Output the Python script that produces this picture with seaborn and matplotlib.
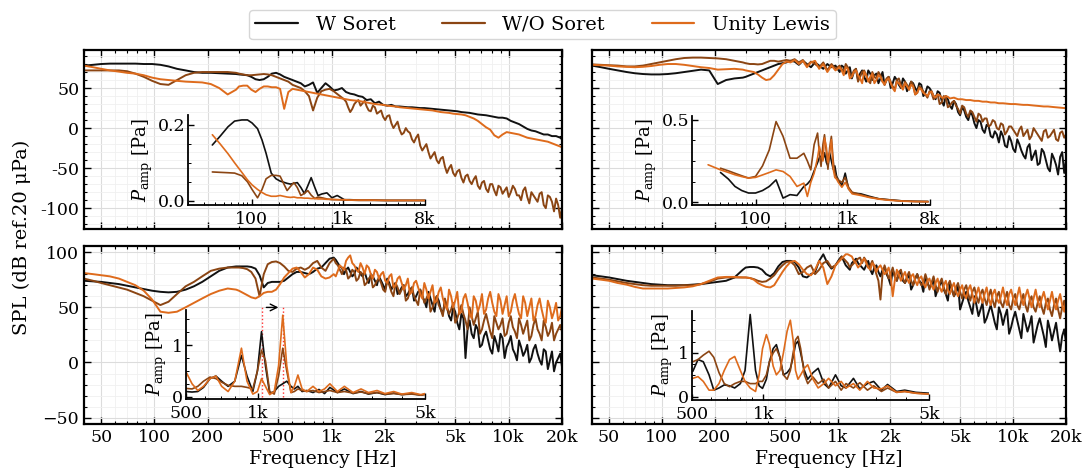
import numpy as np
import matplotlib
matplotlib.use("Agg")
import matplotlib.pyplot as plt
import seaborn as sns
from matplotlib.ticker import FixedLocator, FuncFormatter, NullFormatter, LogLocator, AutoMinorLocator
from matplotlib.lines import Line2D

# ---------------- data ----------------
LABELS = ["W Soret", "W/O Soret", "Unity Lewis"]
COLORS = ["#111111", "#8b4513", "#de6b1c"]

F_MAIN = [40, 45, 50, 56, 63, 70, 78, 87, 97, 108, 120, 134, 150, 167, 186, 208, 232, 259, 289,
          300, 317, 334, 352, 372, 392, 414, 436, 460, 486,
          512, 540, 570, 602, 635, 670, 706, 745, 786, 830,
          875, 924, 974, 1028, 1085, 1144, 1207, 1274, 1344, 1418,
          1496, 1578, 1665, 1756, 1853, 1955, 2062, 2176, 2296, 2422,
          2555, 2695, 2844, 3000, 3165, 3339, 3523, 3716, 3921, 4136,
          4364, 4604, 4857, 5124, 5406, 5703, 6017, 6348, 6697, 7065,
          7454, 7864, 8296, 8753, 9234, 9742, 10278, 10843, 11439, 12068,
          12732, 13432, 14171, 14950, 15772, 16640, 17555, 18520, 19539, 20000]
# extra in-between frequency bins for the noisy upper band
F_MID = [1056, 1114, 1175, 1240, 1309, 1381, 1457, 1537, 1621, 1710,
         1804, 1903, 2008, 2118, 2235, 2358, 2488, 2625, 2769, 2921,
         3081, 3251, 3430, 3618, 3817, 4027, 4249, 4483, 4730, 4989,
         5264, 5553, 5858, 6180, 6520, 6879, 7257, 7656, 8077, 8521,
         8990, 9485, 10006, 10557, 11137, 11749, 12396, 13077, 13797, 14555,
         15356, 16200, 17091, 18031, 19023]

# top-left panel
TL_W = [78, 79, 80, 80.5, 80.5, 80.5, 80.5, 80, 80, 79, 77, 74, 72, 70, 69, 69, 68.5, 68, 67.5,
        67, 66.5, 66, 64, 61, 60, 61, 64, 68, 69,
        67, 64, 62, 60, 58, 56, 52, 54, 57, 44,
        50, 56, 52, 47, 48, 50, 45, 43, 42, 40,
        39, 35, 36, 31, 33, 29, 28, 29, 27, 27,
        26.5, 26, 26, 25.5, 25, 25, 24.5, 24, 23.5, 23,
        22.5, 22, 21.5, 21, 20, 19.5, 19, 18, 17, 16.5,
        16, 15, 14, 13, 13, 12, 9, 7, 5, 2,
        -1, -3, -4, -6, -8, -8, -10, -10, -12, -14]
TL_WO = [72, 72, 72, 72, 72, 71, 68, 64, 59, 55, 54, 60, 66, 69, 70, 70, 70, 70, 69,
         68, 67, 66, 66, 66.5, 67, 67.5, 67, 66, 64,
         62, 60, 58, 54, 52, 50, 46, 40, 22, 38,
         46, 48, 49, 46, 42, 38, 33, 20, 30, 35,
         31, 27, 21, 26, 20, 14, 15, 6, 4, -2,
         -6, -4, -14, -12, -22, -24, -30, -34, -40, -38,
         -48, -50, -56, -54, -62, -60, -66, -64, -72, -68,
         -76, -70, -78, -72, -82, -74, -80, -76, -84, -78,
         -86, -80, -88, -82, -96, -84, -92, -88, -112, -100]
TL_WO_MID = [44, 40, 36, 26, 24, 33, 28, 34, 22, 28,
             18, 22, 10, 16, 0, 8, -8, 0, -6, -18,
             -8, -28, -20, -38, -30, -44, -36, -56, -46, -60,
             -52, -68, -58, -70, -60, -76, -66, -80, -70, -84,
             -74, -78, -86, -72, -84, -90, -74, -94, -84, -92,
             -80, -100, -86, -104, -96]
TL_UL = [78, 76, 74, 72, 70.5, 69, 68, 66, 63, 61, 60, 59, 58, 57.5, 57, 55, 50, 42, 48,
         52, 53, 53, 48, 45, 49, 52, 52, 51, 51,
         49, 24, 45, 49, 48, 47, 46, 45, 44, 43,
         42, 41, 40, 39, 38, 37, 36, 35, 34.5, 34,
         33, 32, 31, 30, 29.5, 29, 28, 27.5, 27, 26,
         25.5, 25, 24.5, 24, 23.5, 23, 22.5, 22, 21, 20,
         19.5, 19, 18, 17.5, 17, 16, 14, 12, 9, 5,
         1, -2, -9, -12, -8, -5, -6, -7, -8, -10,
         -12, -13, -14, -15, -16, -17, -19, -21, -23, -24]

# top-right panel
TR_W = [78, 76, 74, 72, 70, 68.5, 67.5, 67, 67, 67.5, 68.5, 70, 71.5, 73, 72, 55, 60, 62, 63,
        64, 66, 68, 70, 72, 74, 76, 78, 80, 81,
        82, 84, 83, 79, 84, 80, 76, 82, 78, 74,
        80, 76, 78, 70, 76, 72, 62, 74, 68, 64,
        72, 60, 68, 62, 54, 64, 56, 60, 50, 58,
        52, 56, 46, 54, 44, 50, 40, 46, 34, 40,
        28, 34, 20, 26, 14, 20, 6, 10, -2, 4,
        -10, -4, -18, -10, -24, -16, -30, -20, -34, -24,
        -40, -28, -44, -30, -50, -32, -46, -36, -56, -40]
TR_W_MID = [78, 68, 76, 70, 60, 72, 58, 68, 66, 56,
            70, 60, 50, 64, 54, 62, 46, 58, 50, 56,
            40, 52, 46, 36, 44, 28, 36, 24, 30, 16,
            22, 10, 16, 0, 8, -6, 2, -12, -8, -4,
            -22, -10, -26, -14, -28, -38, -20, -34, -46, -26,
            -40, -54, -38, -58, -30]
TR_WO = [79.5, 79, 78.5, 78, 77, 77, 78, 80, 82, 84, 86, 87.5, 88, 88, 87.5, 87, 86, 84, 82,
         81, 80, 80, 79.5, 80, 82, 84, 84, 83, 84,
         85, 84, 86, 82, 85, 78, 83, 80, 76, 82,
         72, 80, 74, 78, 70, 76, 66, 74, 64, 72,
         60, 70, 62, 66, 56, 64, 52, 60, 54, 58,
         48, 54, 44, 50, 42, 46, 36, 42, 32, 38,
         28, 34, 24, 28, 18, 22, 14, 18, 8, 12,
         4, 8, -2, 4, -4, 2, -6, -2, -10, -2,
         -10, -4, -12, -4, -12, -6, -14, -6, -12, -8]
TR_WO_MID = [74, 80, 68, 72, 58, 70, 66, 56, 64, 70,
             58, 62, 58, 48, 62, 50, 54, 58, 42, 52,
             46, 38, 44, 40, 30, 40, 26, 32, 28, 18,
             26, 14, 20, 8, 16, 12, 2, 10, 0, 6,
             -8, 2, -2, -10, 2, -6, -14, 0, -8, -16,
             -2, -10, -2, -16, -4]
TR_UL = [79, 78.5, 78, 77, 76.5, 76, 76.5, 77.5, 79, 80, 80, 79, 77.5, 76, 75, 73, 73.5, 74, 73,
         72, 71, 70, 67, 63, 60, 61, 66, 73, 80,
         83, 82, 85, 80, 84, 76, 82, 84, 74, 80,
         70, 78, 72, 76, 66, 74, 64, 72, 62, 70,
         58, 68, 60, 64, 54, 62, 50, 58, 52, 56,
         48, 52, 44, 48, 42, 44, 40, 42, 38, 40,
         37, 38, 36, 36, 35, 35, 34, 34, 33, 33,
         32, 32, 31, 31, 30.5, 30, 30, 29.5, 29, 29,
         28.5, 28, 27.5, 27, 27, 26.5, 26, 25.5, 25, 25]
TR_UL_MID = [72, 76, 62, 70, 66, 56, 66, 64, 56, 66,
             58, 60, 56, 46, 56, 48, 52, 54, 42, 50,
             44, 40, 46, 38, 41, 38, 39, 37.5, 37, 36,
             35.5, 35, 34.5, 34, 33.5, 33, 32.5, 32, 31.5, 31,
             30.7, 30.2, 30, 29.7, 29.2, 29, 28.7, 28.2, 27.7, 27.2,
             27, 26.7, 26.2, 25.7, 25.2]

# bottom-left panel
BL_W = [74, 73.5, 73, 72, 71, 69.5, 68, 66.5, 65, 64, 63.5, 64, 66, 69, 73, 78, 83, 86, 87,
        87, 87, 87, 86.5, 85, 79, 68, 72, 73, 73,
        73, 74, 77, 80, 82, 82, 81, 80, 82, 85,
        86, 90, 94, 95, 90, 86, 84, 82, 80, 84,
        78, 76, 80, 74, 78, 70, 76, 66, 72, 64,
        70, 62, 68, 60, 66, 56, 64, 52, 60, 48,
        56, 42, 50, 36, 44, 4, 38, 22, 30, 16,
        28, 12, 24, 10, 22, 14, 24, 8, 20, 6,
        16, 4, 16, 2, 12, -6, 10, 0, 8, -4]
BL_W_MID = [93, 87, 80, 86, 78, 86, 80, 82, 72, 78,
            70, 74, 66, 72, 70, 62, 68, 60, 66, 56,
            64, 60, 50, 58, 46, 56, 44, 50, 38, 46,
            30, 40, 30, 26, 34, 14, 24, 20, 8, 18,
            26, 4, 18, 12, 2, 14, 10, 0, 12, 8,
            -2, 10, 2, -8, 4]
BL_WO = [76, 74, 72, 70, 68, 66, 63, 60, 56, 52, 55, 62, 69, 73, 78, 83, 85, 86, 86,
         86, 85.5, 84.5, 82, 76, 60, 80, 89, 91, 91.5,
         90, 87, 83, 82, 85, 86, 84, 86, 90, 92,
         86, 83, 90, 94, 88, 80, 84, 78, 82, 76,
         80, 72, 78, 70, 76, 66, 74, 64, 72, 62,
         70, 58, 68, 56, 66, 54, 62, 50, 60, 48,
         58, 44, 54, 40, 52, 38, 50, 34, 46, 30,
         44, 28, 42, 30, 40, 26, 42, 28, 40, 26,
         38, 24, 40, 26, 38, 24, 36, 26, 34, 28]
BL_WO_MID = [90, 84, 86, 76, 84, 74, 82, 70, 76, 68,
             74, 72, 64, 70, 60, 68, 66, 56, 64, 60,
             52, 62, 58, 46, 56, 52, 42, 50, 48, 36,
             46, 44, 30, 42, 40, 26, 38, 36, 22, 36,
             34, 24, 36, 32, 22, 34, 32, 20, 34, 30,
             20, 32, 28, 20, 30]
BL_UL = [81, 80, 79, 78, 76, 73, 70, 65, 57, 46, 45, 46, 50, 54, 58, 62, 65, 67, 66,
         65, 63, 61, 59, 58, 60, 63, 64, 64, 66,
         71, 77, 81, 85, 86, 82, 77, 80, 86, 84,
         78, 76, 77, 80, 83, 86, 92, 97, 88, 82,
         86, 88, 80, 84, 76, 82, 72, 80, 70, 78,
         66, 76, 64, 74, 62, 72, 58, 70, 56, 68,
         52, 66, 50, 64, 46, 62, 44, 60, 46, 62,
         48, 64, 46, 62, 44, 60, 46, 62, 44, 60,
         42, 58, 42, 58, 40, 56, 40, 54, 42, 50]
BL_UL_MID = [78, 88, 84, 95, 90, 84, 90, 80, 86, 76,
             82, 80, 74, 78, 68, 76, 72, 70, 62, 72,
             68, 58, 66, 64, 54, 64, 58, 48, 60, 56,
             44, 58, 54, 40, 56, 52, 44, 58, 54, 42,
             56, 52, 42, 56, 52, 40, 54, 50, 38, 52,
             48, 36, 50, 46, 38]

# bottom-right panel
BR_W = [79, 78, 77, 75.5, 74, 73, 72, 71, 70.5, 70, 70, 70, 70.5, 71, 72, 73, 74, 77, 84,
        86, 86.5, 86.5, 86, 84, 80, 78, 81, 87, 91,
        92, 92, 91, 86, 78, 77, 80, 82, 92, 98,
        90, 85, 88, 94, 92, 86, 90, 94, 88, 84,
        92, 80, 88, 78, 86, 76, 84, 74, 82, 72,
        80, 70, 80, 72, 78, 68, 76, 66, 74, 62,
        72, 60, 70, 54, 64, 50, 60, 42, 54, 40,
        52, 36, 50, 34, 48, 32, 46, 30, 44, 28,
        42, 26, 40, 24, 38, 20, 36, 10, 30, 18]
BR_W_MID = [96, 88, 84, 92, 90, 86, 88, 84, 86, 82,
            84, 80, 70, 78, 80, 74, 76, 66, 76, 74,
            64, 72, 70, 60, 70, 66, 56, 66, 64, 48,
            60, 56, 44, 52, 48, 36, 46, 44, 30, 44,
            42, 26, 40, 38, 22, 36, 34, 18, 34, 32,
            14, 30, 28, 22, 24]
BR_WO = [77, 76, 75, 73.5, 72, 71, 70, 69.5, 69.5, 69.5, 69.5, 70, 70, 71, 73, 76, 77, 77, 77,
         77, 76.5, 75.5, 74, 73, 73.5, 76, 79, 84, 88,
         91, 91.5, 88, 80, 82, 86, 88, 80, 84, 90,
         92, 86, 88, 93, 94, 90, 88, 92, 95, 95,
         86, 92, 80, 57, 88, 76, 86, 74, 84, 72,
         82, 70, 80, 70, 80, 66, 78, 64, 76, 62,
         74, 60, 72, 58, 70, 56, 68, 54, 66, 52,
         66, 50, 64, 50, 64, 48, 62, 48, 62, 46,
         60, 46, 60, 44, 58, 42, 58, 40, 56, 44]
BR_WO_MID = [96, 92, 86, 90, 94, 90, 92, 88, 86, 74,
             80, 82, 80, 78, 82, 76, 78, 74, 76, 74,
             72, 74, 72, 70, 72, 68, 70, 66, 68, 64,
             66, 62, 64, 60, 62, 58, 60, 56, 60, 54,
             58, 52, 58, 52, 56, 52, 56, 50, 54, 50,
             54, 48, 52, 48, 50]
BR_UL = [76, 75, 74, 72, 70.5, 68.5, 67, 67, 67, 67, 67.5, 68, 69, 71, 74, 77, 77.5, 77.5, 77,
         77, 76.5, 75, 72, 70, 68.5, 68, 70, 76, 82,
         87, 91, 92, 89, 84, 80, 79, 84, 92, 86,
         71, 78, 88, 92, 96, 98, 96, 90, 88, 94,
         86, 90, 82, 88, 80, 86, 60, 84, 74, 82,
         72, 80, 70, 78, 68, 76, 66, 76, 64, 74,
         62, 72, 60, 70, 58, 70, 54, 68, 54, 68,
         52, 66, 54, 68, 52, 66, 52, 68, 52, 66,
         50, 66, 50, 64, 48, 64, 48, 62, 46, 56]
BR_UL_MID = [94, 98, 97, 92, 86, 92, 90, 84, 88, 86,
             84, 82, 78, 74, 80, 78, 76, 78, 74, 76,
             72, 74, 70, 72, 68, 70, 66, 68, 64, 66,
             62, 66, 62, 62, 60, 62, 58, 62, 58, 60,
             58, 62, 58, 60, 58, 60, 58, 58, 56, 58,
             56, 56, 54, 56, 52]

# insets: pressure amplitude spectra
F_IN_TL = [37, 45, 55, 65, 78, 90, 101, 116, 130, 144,
           164, 185, 205, 245, 267, 291, 317, 347, 380, 414,
           450, 494, 535, 590, 670, 760, 870, 1040, 1190, 1500,
           2000, 3000, 4500, 6000, 8000]
IN_TL_W = [0.147, 0.17, 0.195, 0.21, 0.213, 0.213, 0.205, 0.19, 0.16, 0.125,
           0.073, 0.058, 0.052, 0.046, 0.044, 0.046, 0.048, 0.035, 0.019, 0.04,
           0.061, 0.035, 0.014, 0.018, 0.021, 0.008, 0.014, 0.003, 0.003, 0.002,
           0.002, 0.001, 0.001, 0.001, 0.001]
IN_TL_WO = [0.076, 0.075, 0.074, 0.073, 0.066, 0.05, 0.03, 0.008, 0.03, 0.058,
            0.067, 0.067, 0.065, 0.027, 0.038, 0.048, 0.035, 0.014, 0.02, 0.027,
            0.015, 0.006, 0.01, 0.008, 0.005, 0.003, 0.003, 0.002, 0.002, 0.001,
            0.001, 0.001, 0.001, 0.001, 0.001]
IN_TL_UL = [0.174, 0.15, 0.124, 0.1, 0.075, 0.055, 0.042, 0.03, 0.022, 0.016,
            0.012, 0.012, 0.014, 0.01, 0.009, 0.01, 0.008, 0.008, 0.007, 0.007,
            0.006, 0.006, 0.005, 0.005, 0.004, 0.004, 0.003, 0.003, 0.002, 0.002,
            0.002, 0.001, 0.001, 0.001, 0.001]

F_IN_TR = [30, 41, 50, 59, 70, 83, 99, 118, 140, 166,
           198, 236, 281, 334, 365, 398, 433, 472, 493, 515,
           540, 562, 590, 613, 640, 668, 700, 729, 760, 795,
           870, 946, 1030, 1127, 1400, 1735, 2200, 2700, 3400, 4170, 5500, 7630]
IN_TR_W = [np.nan, 0.18, 0.14, 0.095, 0.07, 0.055, 0.055, 0.07, 0.095, 0.135,
           0.024, 0.045, 0.04, 0.095, 0.11, 0.135, 0.19, 0.24, 0.27, 0.28,
           0.26, 0.3, 0.24, 0.22, 0.3, 0.25, 0.2, 0.22, 0.16, 0.135,
           0.1, 0.176, 0.08, 0.055, 0.05, 0.035, 0.02, 0.015, 0.01, 0.006, 0.004, 0.003]
IN_TR_WO = [np.nan, 0.206, 0.19, 0.175, 0.16, 0.146, 0.156, 0.22, 0.318, 0.49,
            0.4, 0.267, 0.267, 0.297, 0.25, 0.196, 0.35, 0.42, 0.3, 0.217,
            0.35, 0.41, 0.3, 0.2, 0.33, 0.4, 0.25, 0.176, 0.15, 0.135,
            0.12, 0.15, 0.09, 0.06, 0.045, 0.03, 0.02, 0.015, 0.01, 0.006, 0.004, 0.003]
IN_TR_UL = [0.227, 0.196, 0.18, 0.166, 0.155, 0.146, 0.15, 0.165, 0.18, 0.196,
            0.186, 0.156, 0.095, 0.115, 0.034, 0.12, 0.176, 0.27, 0.338, 0.3,
            0.25, 0.39, 0.33, 0.24, 0.3, 0.38, 0.2, 0.15, 0.14, 0.12,
            0.09, 0.12, 0.08, 0.05, 0.04, 0.028, 0.018, 0.012, 0.008, 0.005, 0.003, 0.002]

F_IN_BL = [500, 530, 560, 592, 630, 667, 705, 750, 800, 853,
           900, 952, 995, 1035, 1075, 1120, 1170, 1220, 1270, 1320,
           1375, 1420, 1470, 1530, 1600, 1700, 1800, 1900, 2000, 2150,
           2300, 2500, 2700, 2900, 3150, 3400, 3700, 4000, 4400, 4800, 5000]
IN_BL_W = [0.1, 0.09, 0.1, 0.18, 0.35, 0.4, 0.3, 0.2, 0.3, 0.8,
           0.4, 0.1, 0.5, 1.26, 0.6, 0.06, 0.1, 0.2, 0.25, 0.3,
           0.2, 0.15, 0.2, 0.1, 0.12, 0.08, 0.14, 0.06, 0.18, 0.08,
           0.15, 0.06, 0.1, 0.05, 0.08, 0.04, 0.07, 0.04, 0.06, 0.03, 0.05]
IN_BL_WO = [0.16, 0.15, 0.2, 0.3, 0.38, 0.35, 0.28, 0.22, 0.2, 0.2,
            0.18, 0.15, 0.5, 0.9, 0.7, 0.1, 0.05, 0.4, 0.94, 0.5,
            0.08, 0.1, 0.15, 0.12, 0.1, 0.12, 0.08, 0.1, 0.12, 0.08,
            0.1, 0.07, 0.09, 0.06, 0.08, 0.05, 0.06, 0.04, 0.05, 0.03, 0.04]
IN_BL_UL = [0.48, 0.25, 0.12, 0.2, 0.35, 0.4, 0.2, 0.1, 0.3, 0.94,
            0.3, 0.05, 0.1, 0.35, 0.2, 0.04, 0.1, 0.6, 1.58, 0.6,
            0.08, 0.2, 0.42, 0.15, 0.1, 0.2, 0.1, 0.15, 0.25, 0.1,
            0.2, 0.08, 0.15, 0.08, 0.12, 0.06, 0.1, 0.05, 0.08, 0.04, 0.06]
PEAK_F = [1035, 1270]   # marked peak frequencies (red dotted lines)
PEAK_MARK_Y = 1.75

F_IN_BR = [504, 530, 558, 590, 618, 650, 684, 720, 757, 800,
           837, 880, 927, 960, 992, 1030, 1061, 1100, 1135, 1175,
           1215, 1260, 1300, 1335, 1367, 1400, 1437, 1490, 1539, 1620,
           1703, 1800, 1885, 2016, 2130, 2232, 2400, 2553, 2750, 2921,
           3150, 3342, 3650, 3950, 4400, 5000]
IN_BR_W = [0.58, 0.85, 0.8, 0.5, 0.15, 0.2, 0.27, 0.25, 0.2, 0.3,
           0.6, 1.88, 0.6, 0.25, 0.19, 0.4, 0.8, 1.1, 1.19, 0.9,
           0.5, 0.55, 0.65, 0.9, 1.2, 1.27, 1.0, 0.6, 0.4, 0.55,
           0.65, 0.3, 0.2, 0.5, 0.25, 0.2, 0.42, 0.18, 0.3, 0.35,
           0.15, 0.28, 0.12, 0.15, 0.1, 0.08]
IN_BR_WO = [0.8, 0.85, 0.95, 1.04, 0.9, 0.55, 0.3, 0.23, 0.3, 0.35,
            0.35, 0.3, 0.3, 0.35, 0.35, 0.5, 0.8, 1.0, 1.1, 0.9,
            0.5, 0.4, 0.6, 1.0, 1.3, 1.38, 1.1, 0.5, 0.3, 0.45,
            0.3, 0.4, 0.2, 0.35, 0.15, 0.3, 0.2, 0.32, 0.15, 0.25,
            0.12, 0.2, 0.1, 0.12, 0.08, 0.06]
IN_BR_UL = [0.42, 0.46, 0.35, 0.15, 0.15, 0.3, 0.6, 0.85, 0.92, 0.6,
            0.35, 0.2, 0.12, 0.5, 1.1, 1.42, 1.2, 0.7, 0.5, 0.6,
            1.0, 1.5, 1.75, 1.3, 0.6, 0.4, 0.5, 0.65, 0.73, 0.4,
            0.2, 0.3, 0.42, 0.25, 0.35, 0.2, 0.3, 0.15, 0.35, 0.2,
            0.18, 0.25, 0.1, 0.12, 0.08, 0.06]

MAIN_XTICKS = [50, 100, 200, 500, 1000, 2000, 5000, 10000, 20000]
MAIN_XLABELS = ["50", "100", "200", "500", "1k", "2k", "5k", "10k", "20k"]
TOP_YTICKS = [-100, -50, 0, 50]
BOT_YTICKS = [-50, 0, 50, 100]
IN_TOP_XTICKS = [100, 1000, 8000]
IN_TOP_XLABELS = ["100", "1k", "8k"]
IN_BOT_XTICKS = [500, 1000, 5000]
IN_BOT_XLABELS = ["500", "1k", "5k"]

# ---------------- style ----------------
sns.set_theme(style="ticks")
plt.rcParams.update({
    "font.family": ["DejaVu Serif"],
    "mathtext.fontset": "dejavuserif",
    "axes.edgecolor": "black",
    "axes.linewidth": 1.6,
    "xtick.color": "black",
    "ytick.color": "black",
    "text.color": "black",
    "axes.labelcolor": "black",
})
FS = 12.5

fig = plt.figure(figsize=(10.85, 4.70), dpi=100)
W, H = 1085.0, 470.0

def fig_rect(x0, y0, x1, y1):
    return [x0 / W, 1 - y1 / H, (x1 - x0) / W, (y1 - y0) / H]

ax_tl = fig.add_axes(fig_rect(84, 50, 562, 229))
ax_tr = fig.add_axes(fig_rect(592, 50, 1066, 229))
ax_bl = fig.add_axes(fig_rect(84, 246, 562, 424))
ax_br = fig.add_axes(fig_rect(592, 246, 1066, 424))

def style_main(ax, yticks, ylim, top, show_ylabels):
    ax.set_xscale("log")
    ax.set_xlim(40, 20000)
    ax.set_ylim(*ylim)
    ax.xaxis.set_major_locator(FixedLocator(MAIN_XTICKS))
    ax.xaxis.set_minor_locator(LogLocator(base=10, subs=np.arange(2, 10)))
    ax.xaxis.set_minor_formatter(NullFormatter())
    ax.yaxis.set_major_locator(FixedLocator(yticks))
    ax.yaxis.set_minor_locator(AutoMinorLocator(5))
    if top:
        ax.set_xticklabels([])
    else:
        ax.set_xticklabels(MAIN_XLABELS)
        ax.set_xlabel("Frequency [Hz]", fontsize=13.5, labelpad=3)
    if show_ylabels:
        if top:
            ax.yaxis.set_major_formatter(FuncFormatter(lambda v, p: f"{v:g}"))
        else:
            ax.yaxis.set_major_formatter(FuncFormatter(lambda v, p: f"{v:g}".replace("-", "\u2212")))
    else:
        ax.set_yticklabels([])
    ax.tick_params(which="both", direction="in", top=True, right=True, labelsize=FS)
    ax.tick_params(which="major", length=5, width=1.0)
    ax.tick_params(which="minor", length=2.5, width=0.8)
    ax.grid(which="major", color="#dcdcdc", lw=0.8)
    ax.grid(which="minor", color="#f0f0f0", lw=0.6)
    ax.set_axisbelow(True)
    for s in ax.spines.values():
        s.set_linewidth(1.6)

def merged(vals, mids):
    """Combine the base frequency bins with the extra in-between bins."""
    f = list(F_MAIN)
    v = list(vals)
    if mids is not None:
        f = f + list(F_MID)
        v = v + list(mids)
    order = np.argsort(f)
    return np.asarray(f)[order], np.asarray(v, dtype=float)[order]

def draw_main(ax, series):
    for (vals, mids), c in zip(series, COLORS):
        f, v = merged(vals, mids)
        sns.lineplot(x=f, y=v, ax=ax, color=c, lw=1.4, estimator=None,
                     sort=False, legend=False)

def draw_lines(ax, f, series, lw):
    for vals, c in zip(series, COLORS):
        sns.lineplot(x=f, y=vals, ax=ax, color=c, lw=lw, estimator=None,
                     sort=False, legend=False)

draw_main(ax_tl, [(TL_W, None), (TL_WO, TL_WO_MID), (TL_UL, None)])
draw_main(ax_tr, [(TR_W, TR_W_MID), (TR_WO, TR_WO_MID), (TR_UL, TR_UL_MID)])
draw_main(ax_bl, [(BL_W, BL_W_MID), (BL_WO, BL_WO_MID), (BL_UL, BL_UL_MID)])
draw_main(ax_br, [(BR_W, BR_W_MID), (BR_WO, BR_WO_MID), (BR_UL, BR_UL_MID)])

style_main(ax_tl, TOP_YTICKS, (-126, 97.5), True, True)
style_main(ax_tr, TOP_YTICKS, (-126, 97.5), True, False)
style_main(ax_bl, BOT_YTICKS, (-55.7, 105.5), False, True)
style_main(ax_br, BOT_YTICKS, (-55.7, 105.5), False, False)

# ---------------- insets ----------------
def make_inset(rect, f, series, xlim, ylim, xticks, xlabels, yticks, ylabels):
    ia = fig.add_axes(fig_rect(*rect))
    ia.set_facecolor("none")
    draw_lines(ia, f, series, 1.2)
    ia.set_xscale("log")
    ia.set_xlim(*xlim)
    ia.set_ylim(*ylim)
    ia.xaxis.set_major_locator(FixedLocator(xticks))
    ia.set_xticklabels(xlabels)
    ia.xaxis.set_minor_locator(LogLocator(base=10, subs=np.arange(2, 10)))
    ia.xaxis.set_minor_formatter(NullFormatter())
    ia.yaxis.set_major_locator(FixedLocator(yticks))
    ia.set_yticklabels(ylabels)
    ia.yaxis.set_minor_locator(AutoMinorLocator(4))
    ia.spines["top"].set_visible(False)
    ia.spines["right"].set_visible(False)
    for s in ("left", "bottom"):
        ia.spines[s].set_linewidth(1.3)
    ia.tick_params(which="both", direction="in", top=False, right=False, labelsize=FS)
    ia.tick_params(axis="x", pad=4.5)
    ia.tick_params(axis="y", pad=2)
    ia.tick_params(which="major", length=4, width=1.0)
    ia.tick_params(which="minor", length=2, width=0.7)
    ia.set_ylabel(r"$P_{\mathrm{amp}}$ [Pa]", fontsize=13, labelpad=2)
    ia.grid(False)
    return ia

in_tl = make_inset((188, 115, 425, 205), F_IN_TL, [IN_TL_W, IN_TL_WO, IN_TL_UL],
                   (20, 8000), (-0.011, 0.226), IN_TOP_XTICKS, IN_TOP_XLABELS,
                   [0.0, 0.2], ["0.0", "0.2"])
in_tr = make_inset((692, 116, 930, 205), F_IN_TR, [IN_TR_W, IN_TR_WO, IN_TR_UL],
                   (20, 8000), (-0.018, 0.524), IN_TOP_XTICKS, IN_TOP_XLABELS,
                   [0.0, 0.5], ["0.0", "0.5"])
in_bl = make_inset((186, 310, 425, 399), F_IN_BL, [IN_BL_W, IN_BL_WO, IN_BL_UL],
                   (500, 5000), (-0.045, 1.68), IN_BOT_XTICKS, IN_BOT_XLABELS,
                   [0, 1], ["0", "1"])
in_br = make_inset((692, 311, 929, 400), F_IN_BR, [IN_BR_W, IN_BR_WO, IN_BR_UL],
                   (500, 5000), (-0.075, 1.96), IN_BOT_XTICKS, IN_BOT_XLABELS,
                   [0, 1], ["0", "1"])

for pf in PEAK_F:
    in_bl.plot([pf, pf], [0, PEAK_MARK_Y], color="#ff3030", ls=":", lw=1.0,
               clip_on=False, zorder=1)
in_bl.annotate("", xy=(PEAK_F[1] * 0.985, PEAK_MARK_Y - 0.02),
               xytext=(PEAK_F[0] * 1.02, PEAK_MARK_Y - 0.02),
               arrowprops=dict(arrowstyle="->", color="black", lw=1.0),
               annotation_clip=False)

# ---------------- labels / legend ----------------
fig.text(0.02, 0.495, "SPL (dB ref.20 \u03bcPa)", rotation=90, va="center", ha="center",
         fontsize=14)

handles = [Line2D([0], [0], color=c, lw=1.6) for c in COLORS]
fig.legend(handles, LABELS, loc="upper center", bbox_to_anchor=(0.5, 1.0), ncol=3,
           fontsize=14, frameon=True, fancybox=True, edgecolor="#cccccc",
           handlelength=2.2, columnspacing=2.4, borderpad=0.3, handletextpad=0.9)

fig.savefig("out.png", dpi=100)
